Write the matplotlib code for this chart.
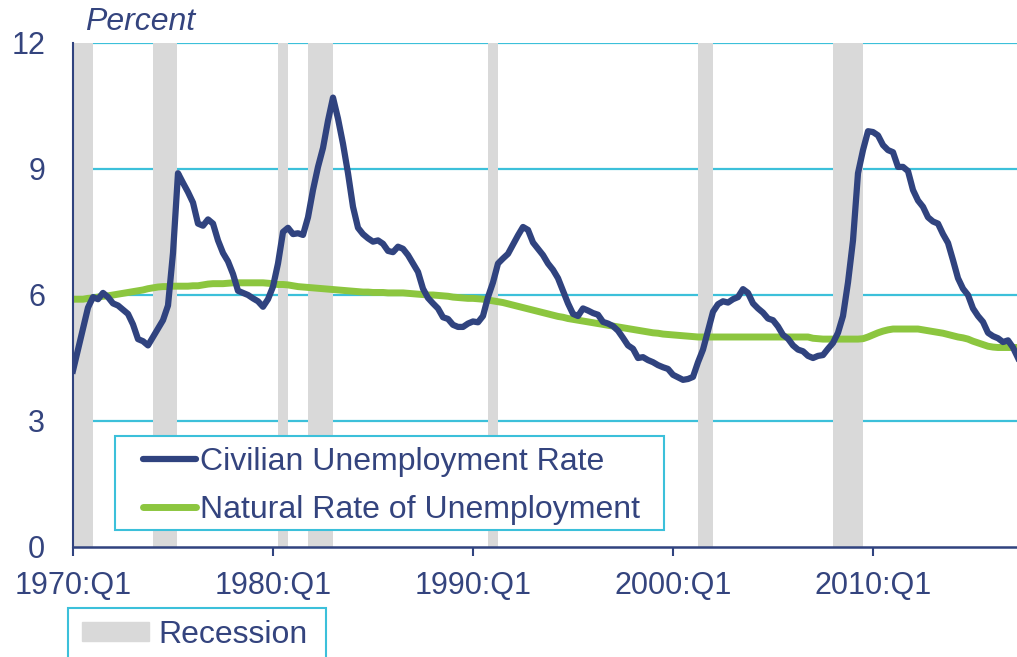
import numpy as np
import matplotlib
matplotlib.use("Agg")
import matplotlib.pyplot as plt
from matplotlib.patches import Patch, Rectangle

plt.rcParams['font.family'] = ['Liberation Sans', 'DejaVu Sans']

# quarterly data, 1970:Q1 .. 2017:Q2
start_year = 1970

unemployment = [
    4.2, 4.7, 5.2, 5.7,        # 1970
    5.95, 5.9, 6.05, 5.95,     # 1971
    5.8, 5.75, 5.65, 5.55,     # 1972
    5.3, 4.95, 4.9, 4.8,       # 1973
    5.0, 5.2, 5.4, 5.75,       # 1974
    7.0, 8.9, 8.67, 8.45,      # 1975
    8.2, 7.7, 7.65, 7.8,       # 1976
    7.7, 7.3, 7.0, 6.8,        # 1977
    6.5, 6.1, 6.05, 6.0,       # 1978
    5.92, 5.85, 5.72, 5.9,     # 1979
    6.2, 6.75, 7.5, 7.6,       # 1980
    7.45, 7.47, 7.43, 7.85,    # 1981
    8.5, 9.05, 9.5, 10.15,     # 1982
    10.7, 10.2, 9.6, 8.9,      # 1983
    8.1, 7.6, 7.45, 7.35,      # 1984
    7.27, 7.3, 7.22, 7.05,     # 1985
    7.02, 7.15, 7.1, 6.95,     # 1986
    6.75, 6.55, 6.15, 5.93,    # 1987
    5.8, 5.68, 5.47, 5.43,     # 1988
    5.29, 5.24, 5.24, 5.32,    # 1989
    5.37, 5.35, 5.5, 5.95,     # 1990
    6.3, 6.75, 6.87, 6.98,     # 1991
    7.2, 7.42, 7.62, 7.55,     # 1992
    7.25, 7.1, 6.95, 6.75,     # 1993
    6.6, 6.4, 6.1, 5.8,        # 1994
    5.55, 5.5, 5.68, 5.63,     # 1995
    5.57, 5.53, 5.36, 5.32,    # 1996
    5.26, 5.15, 4.98, 4.8,     # 1997
    4.72, 4.5, 4.52, 4.45,     # 1998
    4.4, 4.33, 4.28, 4.24,     # 1999
    4.1, 4.04, 3.98, 4.0,      # 2000
    4.05, 4.4, 4.7, 5.15,      # 2001
    5.6, 5.78, 5.85, 5.82,     # 2002
    5.9, 5.95, 6.14, 6.05,     # 2003
    5.8, 5.68, 5.58, 5.44,     # 2004
    5.4, 5.25, 5.05, 4.96,     # 2005
    4.8, 4.7, 4.66, 4.55,      # 2006
    4.5, 4.55, 4.57, 4.72,     # 2007
    4.86, 5.1, 5.5, 6.3,       # 2008
    7.3, 8.9, 9.45, 9.9,       # 2009
    9.88, 9.8, 9.57, 9.45,     # 2010
    9.4, 9.05, 9.05, 8.95,     # 2011
    8.5, 8.25, 8.1, 7.85,      # 2012
    7.75, 7.7, 7.45, 7.24,     # 2013
    6.83, 6.4, 6.15, 6.0,      # 2014
    5.68, 5.5, 5.36, 5.1,      # 2015
    5.02, 4.97, 4.88, 4.92,    # 2016
    4.75, 4.5,                 # 2017
]

natural_rate = [
    5.90, 5.90, 5.90, 5.92,    # 1970
    5.93, 5.95, 5.97, 5.98,    # 1971
    6.00, 6.02, 6.04, 6.06,    # 1972
    6.08, 6.10, 6.12, 6.15,    # 1973
    6.17, 6.19, 6.20, 6.20,    # 1974
    6.21, 6.21, 6.21, 6.21,    # 1975
    6.22, 6.22, 6.24, 6.26,    # 1976
    6.27, 6.27, 6.27, 6.28,    # 1977
    6.29, 6.29, 6.29, 6.29,    # 1978
    6.29, 6.29, 6.29, 6.28,    # 1979
    6.27, 6.25, 6.25, 6.24,    # 1980
    6.22, 6.20, 6.19, 6.18,    # 1981
    6.17, 6.16, 6.15, 6.14,    # 1982
    6.13, 6.12, 6.11, 6.10,    # 1983
    6.09, 6.08, 6.07, 6.07,    # 1984
    6.06, 6.06, 6.06, 6.05,    # 1985
    6.05, 6.05, 6.05, 6.04,    # 1986
    6.03, 6.02, 6.01, 6.00,    # 1987
    6.00, 5.99, 5.98, 5.97,    # 1988
    5.95, 5.94, 5.93, 5.92,    # 1989
    5.92, 5.91, 5.90, 5.88,    # 1990
    5.86, 5.84, 5.82, 5.79,    # 1991
    5.76, 5.73, 5.70, 5.67,    # 1992
    5.64, 5.61, 5.58, 5.55,    # 1993
    5.52, 5.49, 5.47, 5.44,    # 1994
    5.42, 5.40, 5.38, 5.36,    # 1995
    5.34, 5.32, 5.30, 5.28,    # 1996
    5.26, 5.24, 5.22, 5.20,    # 1997
    5.18, 5.16, 5.14, 5.12,    # 1998
    5.10, 5.09, 5.07, 5.06,    # 1999
    5.05, 5.04, 5.03, 5.02,    # 2000
    5.01, 5.00, 5.00, 5.00,    # 2001
    5.00, 5.00, 5.00, 5.00,    # 2002
    5.00, 5.00, 5.00, 5.00,    # 2003
    5.00, 5.00, 5.00, 5.00,    # 2004
    5.00, 5.00, 5.00, 5.00,    # 2005
    5.00, 5.00, 5.00, 5.00,    # 2006
    4.97, 4.96, 4.95, 4.95,    # 2007
    4.95, 4.95, 4.95, 4.95,    # 2008
    4.95, 4.95, 4.96, 5.00,    # 2009
    5.05, 5.10, 5.14, 5.17,    # 2010
    5.19, 5.19, 5.19, 5.19,    # 2011
    5.19, 5.19, 5.17, 5.15,    # 2012
    5.13, 5.11, 5.09, 5.06,    # 2013
    5.03, 5.00, 4.98, 4.95,    # 2014
    4.90, 4.86, 4.82, 4.78,    # 2015
    4.76, 4.75, 4.75, 4.75,    # 2016
    4.75, 4.75,                # 2017
]

rec_start = [1970.0, 1974.0, 1980.25, 1981.75, 1990.75, 2001.25, 2008.0]
rec_end = [1971.0, 1975.2, 1980.75, 1983.0, 1991.25, 2002.0, 2009.5]

tick_years = [1970, 1980, 1990, 2000, 2010]
tick_labels = ['1970:Q1', '1980:Q1', '1990:Q1', '2000:Q1', '2010:Q1']

navy = '#30437f'
green = '#8cc63f'
cyan = '#3cc0da'
grey = '#d9d9d9'
txt = '#34447e'

W, H = 1017, 657
years = start_year + np.arange(len(unemployment)) / 4.0

fig = plt.figure(figsize=(W / 100, H / 100), dpi=100)
ax = fig.add_axes([73 / W, 110 / H, 944 / W, 504 / H])

for s, e in zip(rec_start, rec_end):
    ax.axvspan(s, e, color=grey, lw=0, zorder=1)

for v in [3, 6, 9, 12]:
    ax.axhline(v, color=cyan, lw=1.6, zorder=0)

ax.plot(years, natural_rate, color=green, lw=5, zorder=3, solid_capstyle='butt')
ax.plot(years, unemployment, color=navy, lw=4.5, zorder=4, solid_joinstyle='round')

ax.set_xlim(1970, 2017.2)
ax.set_ylim(0, 12)
ax.set_yticks([0, 3, 6, 9, 12])
ax.set_xticks(tick_years)
ax.set_xticklabels(tick_labels)

for sp in ['top', 'right']:
    ax.spines[sp].set_visible(False)
for sp in ['left', 'bottom']:
    ax.spines[sp].set_color(navy)
    ax.spines[sp].set_zorder(5)
ax.spines['left'].set_linewidth(1.5)
ax.spines['bottom'].set_linewidth(1.8)

ax.tick_params(axis='y', length=0, pad=20, labelsize=22, labelcolor=txt)
ax.tick_params(axis='x', length=6.5, width=1.5, color=navy, direction='out',
               pad=11, labelsize=22, labelcolor=txt)

fig.text(85 / W, 1 - 30 / H, 'Percent', style='italic', fontsize=23,
         color=txt, va='baseline', ha='left')

# legend boxes drawn by hand so their size matches
fig.add_artist(Rectangle((115 / W, 1 - 530 / H), 549 / W, 94 / H,
                         transform=fig.transFigure, fill=True, fc='white',
                         ec=cyan, lw=1.5, zorder=6))
fig.add_artist(Rectangle((68 / W, 1 - 680 / H), 258 / W, 72 / H,
                         transform=fig.transFigure, fill=True, fc='white',
                         ec=cyan, lw=1.5, zorder=6))

h1 = plt.Line2D([], [], color=navy, lw=4.5, solid_capstyle='round')
h2 = plt.Line2D([], [], color=green, lw=5, solid_capstyle='round')
leg = fig.legend([h1, h2], ['Civilian Unemployment Rate', 'Natural Rate of Unemployment'],
                 loc='upper left', bbox_to_anchor=(143 / W, 1 - 447 / H),
                 fontsize=23, frameon=False, handlelength=1.65,
                 handletextpad=0.15, borderpad=0, labelspacing=0.56,
                 borderaxespad=0)
leg.set_zorder(7)
for t in leg.get_texts():
    t.set_color(txt)

leg2 = fig.legend([Patch(color=grey)], ['Recession'], loc='upper left',
                  bbox_to_anchor=(82 / W, 1 - 620 / H), fontsize=23,
                  frameon=False, handlelength=2.1, handleheight=0.55,
                  handletextpad=0.3, borderpad=0, borderaxespad=0)
leg2.set_zorder(7)
for t in leg2.get_texts():
    t.set_color(txt)

fig.savefig('out.png', dpi=100)
